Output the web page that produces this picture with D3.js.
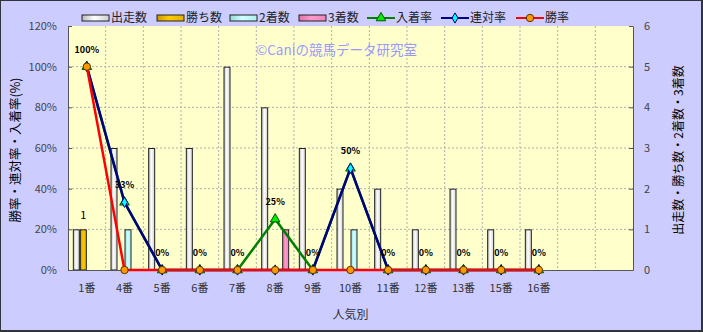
<!DOCTYPE html>
<html>
<head>
<meta charset="utf-8">
<script src="https://cdn.jsdelivr.net/npm/d3@7"></script>
<style>
  body { margin: 0; padding: 0; background: #fff; }
  svg { display: block; }
  text { font-family: "Noto Sans CJK JP", "Noto Sans", sans-serif; }
</style>
</head>
<body>
<div id="chart"></div>
<script>
// categories (popularity rank) - plus 2 empty slots at the end
const categories = ["1番", "4番", "5番", "6番", "7番", "8番", "9番", "10番", "11番", "12番", "13番", "15番", "16番"];
const emptySlots = 2;

// counts (right axis)
const runs   = [1, 3, 3, 3, 5, 4, 3, 2, 2, 1, 2, 1, 1];
const wins   = [1, 0, 0, 0, 0, 0, 0, 0, 0, 0, 0, 0, 0];
const second = [0, 1, 0, 0, 0, 0, 0, 1, 0, 0, 0, 0, 0];
const third  = [0, 0, 0, 0, 0, 1, 0, 0, 0, 0, 0, 0, 0];

// rates (left axis)
const placeRate = [1, 0.333, 0, 0, 0, 0.25, 0, 0.5, 0, 0, 0, 0, 0];
const quinRate  = [1, 0.333, 0, 0, 0, 0, 0, 0.5, 0, 0, 0, 0, 0];
const winRate   = [1, 0, 0, 0, 0, 0, 0, 0, 0, 0, 0, 0, 0];

const leftTicks = [0, 0.2, 0.4, 0.6, 0.8, 1.0, 1.2];
const rightTicks = [0, 1, 2, 3, 4, 5, 6];

const W = 703, H = 332;
const margin = {top: 26, right: 70, bottom: 62, left: 68};
const width = W - margin.left - margin.right;
const height = H - margin.top - margin.bottom;

const svg = d3.select("#chart").append("svg")
    .attr("width", W)
    .attr("height", H);

// outer background + border
svg.append("rect").attr("x", 0).attr("y", 0).attr("width", W).attr("height", H).attr("fill", "#33333f");
svg.append("rect").attr("x", 1).attr("y", 1).attr("width", W - 3).attr("height", H - 3).attr("fill", "#ccccff");

const defs = svg.append("defs");
function grad(id, edgeL, mid, edgeR) {
    const g = defs.append("linearGradient").attr("id", id)
        .attr("x1", "0%").attr("x2", "100%").attr("y1", "0%").attr("y2", "0%");
    g.append("stop").attr("offset", "0%").attr("stop-color", edgeL);
    g.append("stop").attr("offset", "45%").attr("stop-color", mid);
    g.append("stop").attr("offset", "100%").attr("stop-color", edgeR);
}
grad("gRun", "#b8b8b8", "#ffffff", "#d0d0d0");
grad("gWin", "#c89800", "#ffcc00", "#e0b000");
grad("gSec", "#99d8d8", "#ccffff", "#b0eeee");
grad("gThi", "#dd77aa", "#ff99cc", "#ee88bb");

const g = svg.append("g").attr("transform", `translate(${margin.left},${margin.top})`);

// plot area
g.append("rect").attr("width", width).attr("height", height).attr("fill", "#ffffcc");

const xScale = d3.scaleBand()
    .domain(d3.range(categories.length + emptySlots))
    .range([0, width])
    .padding(0);

const yLeft = d3.scaleLinear().domain([0, 1.2]).range([height, 0]);
const yRight = d3.scaleLinear().domain([0, 6]).range([height, 0]);

// gridlines
g.append("g").selectAll("line.hg")
    .data(leftTicks.slice(1, -1))
    .join("line")
    .attr("x1", 0).attr("x2", width)
    .attr("y1", d => yLeft(d)).attr("y2", d => yLeft(d))
    .attr("stroke", "#b0b0b0").attr("stroke-dasharray", "2,2");

g.append("g").selectAll("line.vg")
    .data(d3.range(1, categories.length + emptySlots))
    .join("line")
    .attr("x1", d => xScale(d)).attr("x2", d => xScale(d))
    .attr("y1", 0).attr("y2", height)
    .attr("stroke", "#b0b0b0").attr("stroke-dasharray", "2,2");

// watermark
g.append("text")
    .attr("x", 188).attr("y", 29)
    .attr("font-size", 13.5)
    .attr("fill", "#9999ff")
    .text("©Caniの競馬データ研究室");

// bars
const barSeries = [
    {key: "出走数", values: runs, fill: "url(#gRun)"},
    {key: "勝ち数", values: wins, fill: "url(#gWin)"},
    {key: "2着数", values: second, fill: "url(#gSec)"},
    {key: "3着数", values: third, fill: "url(#gThi)"}
];
const bw = xScale.bandwidth();
const xSub = d3.scaleBand()
    .domain(barSeries.map(d => d.key))
    .range([bw / 2 - 14, bw / 2 + 14])
    .padding(0);

g.append("g")
    .selectAll("g")
    .data(categories.map((c, i) => i))
    .join("g")
    .attr("transform", i => `translate(${xScale(i)},0)`)
    .selectAll("rect")
    .data(i => barSeries.map(s => ({key: s.key, value: s.values[i], fill: s.fill})).filter(d => d.value > 0))
    .join("rect")
    .attr("x", d => xSub(d.key) + 0.5)
    .attr("y", d => yRight(d.value) + 0.5)
    .attr("width", xSub.bandwidth() - 1)
    .attr("height", d => height - yRight(d.value) - 0.5)
    .attr("fill", d => d.fill)
    .attr("stroke", "#222")
    .attr("stroke-width", 1);

// wins count label
g.append("g").selectAll("text")
    .data(wins.map((v, i) => ({v, i})).filter(d => d.v > 0))
    .join("text")
    .attr("x", d => xScale(d.i) + xSub("勝ち数") + xSub.bandwidth() / 2)
    .attr("y", d => yRight(d.v) - 10)
    .attr("text-anchor", "middle")
    .attr("font-size", 11)
    .attr("fill", "#000")
    .text(d => d.v);

// axes
g.append("g")
    .call(d3.axisLeft(yLeft).tickValues(leftTicks).tickFormat(d3.format(".0%")).tickSizeInner(-4).tickSizeOuter(0).tickPadding(11))
    .call(a => a.select(".domain").attr("stroke", "#555"))
    .call(a => a.selectAll(".tick line").attr("stroke", "#555"))
    .call(a => a.selectAll("text").attr("font-size", 11).attr("fill", "#444").attr("font-family", "Liberation Sans, sans-serif"));

g.append("g")
    .attr("transform", `translate(${width},0)`)
    .call(d3.axisRight(yRight).tickValues(rightTicks).tickFormat(d3.format("d")).tickSizeInner(-4).tickSizeOuter(0).tickPadding(11))
    .call(a => a.select(".domain").attr("stroke", "#555"))
    .call(a => a.selectAll(".tick line").attr("stroke", "#555"))
    .call(a => a.selectAll("text").attr("font-size", 11).attr("fill", "#444").attr("font-family", "Liberation Sans, sans-serif"));

g.append("g")
    .attr("transform", `translate(0,${height})`)
    .call(d3.axisBottom(xScale).tickFormat(i => categories[i] || "").tickSize(0).tickPadding(14))
    .call(a => a.select(".domain").attr("stroke", "#555"))
    .call(a => a.selectAll("text").attr("font-size", 11).attr("fill", "#333"));

// lines
const lineSeries = [
    {key: "入着率", values: placeRate, color: "#008000", marker: "tri"},
    {key: "連対率", values: quinRate, color: "#000080", marker: "dia"},
    {key: "勝率", values: winRate, color: "#ff0000", marker: "cir"}
];

function drawMarker(sel, type) {
    if (type === "tri") {
        sel.append("path").attr("d", d3.symbol(d3.symbolTriangle, 40)())
            .attr("fill", "#00ee00").attr("stroke", "#005500").attr("stroke-width", 1);
    } else if (type === "dia") {
        sel.append("path").attr("d", d3.symbol(d3.symbolDiamond, 30)())
            .attr("fill", "#00ffff").attr("stroke", "#000080").attr("stroke-width", 1);
    } else {
        sel.append("circle").attr("r", 3.7)
            .attr("fill", "#ff9900").attr("stroke", "#553300").attr("stroke-width", 1);
    }
}

const cx = i => xScale(i) + bw / 2;

lineSeries.forEach(s => {
    const line = d3.line().x((d, i) => cx(i)).y(d => yLeft(d));
    g.append("path")
        .datum(s.values)
        .attr("d", line)
        .attr("fill", "none")
        .attr("stroke", s.color)
        .attr("stroke-width", 2.5);
    g.append("g").selectAll("g")
        .data(s.values)
        .join("g")
        .attr("transform", (d, i) => `translate(${cx(i)},${yLeft(d)})`)
        .each(function() { drawMarker(d3.select(this), s.marker); });
});

// rate labels (入着率)
g.append("g").selectAll("text")
    .data(placeRate)
    .join("text")
    .attr("x", (d, i) => cx(i))
    .attr("y", d => yLeft(d) - 14)
    .attr("text-anchor", "middle")
    .attr("font-size", 9)
    .attr("font-weight", "bold")
    .attr("font-family", "Liberation Sans, sans-serif")
    .attr("fill", "#000")
    .text(d => d3.format(".0%")(d));

// axis titles
svg.append("text")
    .attr("transform", `translate(20,150) rotate(-90)`)
    .attr("text-anchor", "middle")
    .attr("font-size", 12.5)
    .attr("fill", "#000")
    .text("勝率・連対率・入着率(%)");

svg.append("text")
    .attr("transform", `translate(683,150) rotate(-90)`)
    .attr("text-anchor", "middle")
    .attr("font-size", 12)
    .attr("fill", "#000")
    .text("出走数・勝ち数・2着数・3着数");

svg.append("text")
    .attr("x", margin.left + width / 2)
    .attr("y", 319)
    .attr("text-anchor", "middle")
    .attr("font-size", 12)
    .attr("fill", "#333")
    .text("人気別");

// legend
const legend = svg.append("g");
const legendItems = [
    {label: "出走数", type: "bar", fill: "url(#gRun)", x: 82},
    {label: "勝ち数", type: "bar", fill: "url(#gWin)", x: 157},
    {label: "2着数", type: "bar", fill: "url(#gSec)", x: 230},
    {label: "3着数", type: "bar", fill: "url(#gThi)", x: 299},
    {label: "入着率", type: "line", color: "#008000", marker: "tri", x: 367},
    {label: "連対率", type: "line", color: "#000080", marker: "dia", x: 441},
    {label: "勝率", type: "line", color: "#ff0000", marker: "cir", x: 516}
];
legendItems.forEach(it => {
    const li = legend.append("g").attr("transform", `translate(${it.x},18)`);
    if (it.type === "bar") {
        li.append("rect").attr("x", 0).attr("y", -3).attr("width", 27).attr("height", 6)
            .attr("fill", it.fill).attr("stroke", "#222");
    } else {
        li.append("line").attr("x1", 0).attr("x2", 28).attr("stroke", it.color).attr("stroke-width", 2);
        drawMarker(li.append("g").attr("transform", "translate(14,0)"), it.marker);
    }
    li.append("text").attr("x", 29).attr("y", 0).attr("dy", "0.35em")
        .attr("font-size", 12).attr("fill", "#222").text(it.label);
});
</script>
</body>
</html>
